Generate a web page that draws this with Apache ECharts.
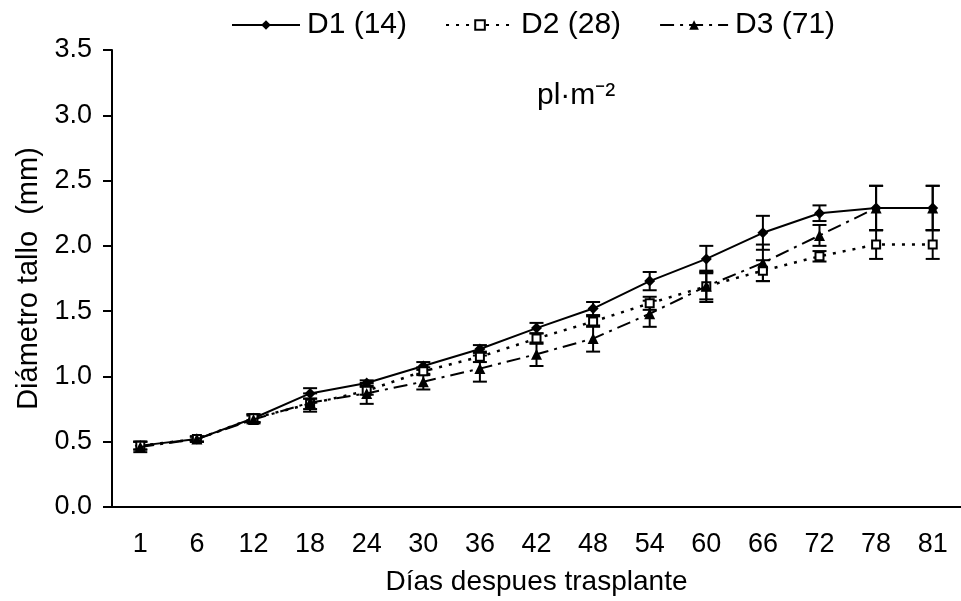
<!DOCTYPE html>
<html>
<head>
<meta charset="utf-8">
<script src="https://cdn.jsdelivr.net/npm/echarts@6/dist/echarts.min.js"></script>
<style>
  html, body { margin: 0; padding: 0; background: #fff; }
  #chart { width: 961px; height: 601px; }
</style>
</head>
<body>
<div id="chart"></div>
<script>
// días después del trasplante
const dias = ["1", "6", "12", "18", "24", "30", "36", "42", "48", "54", "60", "66", "72", "78", "81"];

// diámetro de tallo (mm) y error
const d1 = [0.47, 0.52, 0.68, 0.87, 0.95, 1.08, 1.21, 1.37, 1.52, 1.73, 1.90, 2.10, 2.25, 2.29, 2.29];
const d1Err = [0.03, 0.02, 0.03, 0.04, 0.02, 0.03, 0.03, 0.04, 0.05, 0.07, 0.10, 0.13, 0.06, 0.17, 0.17];
const d2 = [0.47, 0.52, 0.68, 0.79, 0.89, 1.04, 1.15, 1.29, 1.42, 1.56, 1.69, 1.81, 1.92, 2.01, 2.01];
const d2Err = [0.03, 0.02, 0.03, 0.04, 0.03, 0.03, 0.04, 0.04, 0.04, 0.05, 0.10, 0.08, 0.04, 0.11, 0.11];
const d3 = [0.46, 0.52, 0.67, 0.80, 0.87, 0.96, 1.06, 1.17, 1.29, 1.48, 1.69, 1.87, 2.08, 2.29, 2.29];
const d3Err = [0.04, 0.02, 0.03, 0.07, 0.08, 0.06, 0.10, 0.09, 0.10, 0.10, 0.12, 0.14, 0.08, 0.17, 0.17];

const yTicks = ["0.0", "0.5", "1.0", "1.5", "2.0", "2.5", "3.0", "3.5"];

let chart = echarts.init(document.getElementById("chart"));

const font = "Liberation Sans";

// barras de error
function errorSeries(vals, errs) {
	return {
		type: "custom",
		z: 1,
		silent: true,
		data: vals.map((v, i) => [i, v - errs[i], v + errs[i]]),
		encode: { x: 0, y: [1, 2] },
		renderItem: function (params, api) {
			const lo = api.coord([api.value(0), api.value(1)]);
			const hi = api.coord([api.value(0), api.value(2)]);
			const w = 7;
			const st = { stroke: "#000", lineWidth: 2 };
			return {
				type: "group",
				children: [
					{ type: "line", shape: { x1: hi[0], y1: hi[1], x2: lo[0], y2: lo[1] }, style: st },
					{ type: "line", shape: { x1: hi[0] - w, y1: hi[1], x2: hi[0] + w, y2: hi[1] }, style: st },
					{ type: "line", shape: { x1: lo[0] - w, y1: lo[1], x2: lo[0] + w, y2: lo[1] }, style: st },
				],
			};
		},
	};
}

const option = {
	animation: false,
	backgroundColor: "#fff",
	textStyle: { fontFamily: font, color: "#000" },
	grid: { left: 112, right: -6, top: 50, bottom: 92 },
	legend: {
		top: 5,
		left: 226,
		itemWidth: 68,
		itemHeight: 12,
		itemGap: 38,
		textStyle: { fontSize: 30, color: "#000", fontFamily: font, padding: [0, 0, 0, 2] },
		data: ["D1 (14)", "D2 (28)", "D3 (71)"],
	},
	graphic: [
		{
			type: "text",
			left: 537,
			top: 81,
			style: { text: "pl·m⁻²", fontSize: 30, fontFamily: font, fill: "#000" },
		},
	],
	xAxis: {
		type: "category",
		data: dias,
		boundaryGap: true,
		name: "Días despues trasplante",
		nameLocation: "middle",
		nameGap: 61,
		nameTextStyle: { fontSize: 28, color: "#000", fontFamily: font },
		axisLine: { lineStyle: { color: "#000", width: 2 } },
		axisTick: { length: 9, lineStyle: { color: "#000", width: 2 } },
		axisLabel: { fontSize: 27, color: "#000", margin: 24, fontFamily: font },
		splitLine: { show: false },
	},
	yAxis: {
		type: "value",
		min: 0,
		max: 3.5,
		interval: 0.5,
		name: "Diámetro tallo  (mm)",
		nameLocation: "middle",
		nameGap: 68,
		nameTextStyle: { fontSize: 29, color: "#000", fontFamily: font },
		axisLine: { show: true, lineStyle: { color: "#000", width: 2 } },
		axisTick: { show: true, length: 9, lineStyle: { color: "#000", width: 2 } },
		axisLabel: {
			fontSize: 27,
			color: "#000",
			margin: 20,
			fontFamily: font,
			formatter: (v) => yTicks[Math.round(v / 0.5)],
		},
		splitLine: { show: false },
	},
	series: [
		errorSeries(d1, d1Err),
		errorSeries(d2, d2Err),
		errorSeries(d3, d3Err),
		{
			name: "D1 (14)",
			type: "line",
			z: 3,
			data: d1,
			symbol: "diamond",
			symbolSize: 11,
			itemStyle: { color: "#000" },
			lineStyle: { color: "#000", width: 2, type: "solid" },
		},
		{
			name: "D2 (28)",
			type: "line",
			z: 4,
			data: d2,
			symbol: "rect",
			symbolSize: 8,
			itemStyle: { color: "#fff", borderColor: "#000", borderWidth: 2 },
			lineStyle: { color: "#000", width: 2.5, type: [3, 7] },
		},
		{
			name: "D3 (71)",
			type: "line",
			z: 5,
			data: d3,
			symbol: "triangle",
			symbolSize: 11,
			itemStyle: { color: "#000" },
			lineStyle: { color: "#000", width: 2, type: [14, 6, 3, 6] },
		},
	],
};

chart.setOption(option);
</script>
</body>
</html>
